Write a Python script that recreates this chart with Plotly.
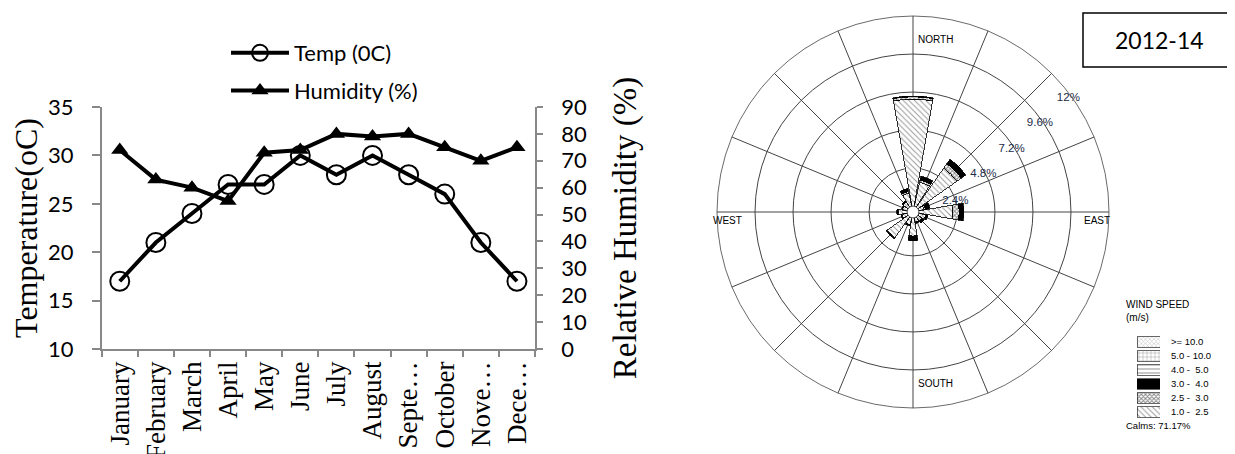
import math
import plotly.graph_objects as go

# ---------------- data: left chart ----------------
months = ["January", "February", "March", "April", "May", "June", "July",
          "August", "September", "October", "November", "December"]
month_labels = ["January", "February", "March", "April", "May", "June", "July",
                "August", "Septe…", "October", "Nove…", "Dece…"]
temp_c = [17, 21, 24, 27, 27, 30, 28, 30, 28, 26, 21, 17]
humidity = [74, 63, 60, 55, 73, 74, 80, 79, 80, 75, 70, 75]
temp_ticks = [10, 15, 20, 25, 30, 35]
hum_ticks = [0, 10, 20, 30, 40, 50, 60, 70, 80, 90]

# ---------------- data: wind rose (percent of time) ----------------
directions = ["N", "NNE", "NE", "ENE", "E", "ESE", "SE", "SSE",
              "S", "SSW", "SW", "WSW", "W", "WNW", "NW", "NNW"]
dir_angles = [0, 22.5, 45, 67.5, 90, 112.5, 135, 157.5,
              180, 202.5, 225, 247.5, 270, 292.5, 315, 337.5]
spd_1_25 = [6.75, 1.55, 3.0, 0.35, 2.15, 0.45, 0.3, 0.3, 1.15, 0.45, 1.6, 0.35, 0.55, 0.3, 0.4, 0.85]
spd_25_3 = [0.15, 0.15, 0.35, 0.08, 0.4, 0.05, 0.05, 0.03, 0.05, 0.03, 0.05, 0.03, 0.05, 0.03, 0.05, 0.1]
spd_3_4 = [0.05, 0.25, 0.35, 0.3, 0.3, 0.1, 0.15, 0.05, 0.25, 0.05, 0.05, 0.03, 0.05, 0.03, 0.05, 0.2]
spd_4_5 = [0.0] * 16
spd_5_10 = [0.0] * 16
spd_10 = [0.0] * 16
speed_classes = ["1.0 -  2.5", "2.5 -  3.0", "3.0 -  4.0", "4.0 -  5.0", "5.0 - 10.0", ">= 10.0"]
ring_vals = [2.4, 4.8, 7.2, 9.6, 12]
ring_text = ["2.4%", "4.8%", "7.2%", "9.6%", "12%"]
calms_pct = 71.17
period_label = "2012-14"

# page offset (body margin) compensation
OFF = 8
W, H = 1235 - OFF, 454 - OFF
def px(x):
    return (x - OFF) / W
def py(y):
    return 1 - (y - OFF) / H

fig = go.Figure()

# ---- left chart traces ----
fig.add_trace(go.Scatter(
    x=months, y=temp_c, name="Temp (0C)", mode="lines+markers",
    line=dict(color="black", width=4),
    marker=dict(symbol="circle-open", size=19, color="black", line=dict(width=2, color="black")),
    legendgroup="t", xaxis="x", yaxis="y"))
fig.add_trace(go.Scatter(
    x=months, y=humidity, name="Humidity (%)", mode="lines+markers",
    line=dict(color="black", width=4),
    marker=dict(symbol="triangle-up", size=15, color="black"),
    legendgroup="h", xaxis="x", yaxis="y2"))

# ---- wind rose traces ----
styles = [
    dict(color="white", pattern=dict(shape="\\", fgcolor="#333", size=4, solidity=0.25)),
    dict(color="white", pattern=dict(shape="x", fgcolor="#111", size=3, solidity=0.55)),
    dict(color="black"),
    dict(color="white", pattern=dict(shape="-", fgcolor="#222", size=4, solidity=0.25)),
    dict(color="white", pattern=dict(shape="+", fgcolor="#222", size=4, solidity=0.2)),
    dict(color="white", pattern=dict(shape="x", fgcolor="#777", size=3, solidity=0.3)),
]
series = [spd_1_25, spd_25_3, spd_3_4, spd_4_5, spd_5_10, spd_10]

def make_marker(st, lw):
    mk = dict(color=st["color"], line=dict(color="black", width=lw))
    if "pattern" in st:
        mk["pattern"] = st["pattern"]
    return mk

for name, vals, st in zip(speed_classes, series, styles):
    fig.add_trace(go.Barpolar(
        r=vals, theta=dir_angles, width=[20] * 16, name=name,
        marker=make_marker(st, 0.8), subplot="polar", showlegend=False))

# ring labels: placed next to each ring along a line at 41.5 deg, nudged down-right
small = "Liberation Sans, Arial, sans-serif"
LAB_ANG = math.radians(41.5)
NUDGE_X, NUDGE_Y = 0.52, -0.98   # in % units of the radial scale
lab_r, lab_t = [], []
for rv in ring_vals:
    xx = rv * math.cos(LAB_ANG) + NUDGE_X
    yy = rv * math.sin(LAB_ANG) + NUDGE_Y
    lab_r.append(math.hypot(xx, yy))
    lab_t.append(90 - math.degrees(math.atan2(yy, xx)))
fig.add_trace(go.Scatterpolar(
    r=lab_r, theta=lab_t, text=ring_text, mode="text",
    textposition="middle center", subplot="polar", showlegend=False, hoverinfo="skip",
    textfont=dict(family=small, size=11.5, color="#1c2b4a")))

# ---- wind speed key: swatches as bars on a tiny axis ----
for i, (name, st) in enumerate(zip(speed_classes, styles)):
    fig.add_trace(go.Bar(
        y=[name], x=[1], base=[0], orientation="h", width=[0.78],
        marker=make_marker(st, 0.6), xaxis="x3", yaxis="y3",
        showlegend=False, hoverinfo="skip"))

axis_font = dict(family="Lato, Noto Sans, sans-serif", size=22, color="black")
serif = "Liberation Serif, Times New Roman, serif"

fig.update_layout(
    width=W, height=H,
    margin=dict(l=0, r=0, t=0, b=0, autoexpand=False),
    paper_bgcolor="white", plot_bgcolor="white",
    barmode="stack",
    xaxis=dict(
        domain=[px(101.7), px(535)], type="category", categoryorder="array",
        categoryarray=months, tickvals=months, ticktext=month_labels,
        range=[-0.5, 11.5], tickangle=-90, tickson="boundaries",
        ticks="outside", ticklen=6, tickcolor="#888", tickwidth=1.5,
        showline=True, linecolor="#888", linewidth=1.5, showgrid=False,
        tickfont=dict(family=serif, size=27, color="black"), anchor="y", automargin=False),
    yaxis=dict(
        domain=[py(349), py(107)], range=[10, 35], tickvals=temp_ticks,
        ticks="outside", ticklen=8, tickcolor="#888", tickwidth=1.5,
        showline=True, linecolor="#888", linewidth=1.5, showgrid=False, zeroline=False,
        tickfont=axis_font, ticklabelstandoff=14, automargin=False,
        title=dict(text="Temperature(oC)", font=dict(family=serif, size=32, color="black"), standoff=4),
        anchor="x"),
    yaxis2=dict(
        overlaying="y", side="right", anchor="x", range=[0, 90], tickvals=hum_ticks,
        ticks="outside", ticklen=6, tickcolor="#888", tickwidth=1.5,
        showline=True, linecolor="#888", linewidth=1.5, showgrid=False, zeroline=False,
        tickfont=axis_font, ticklabelstandoff=14, automargin=False,
        title=dict(text="Relative Humidity (%)", font=dict(family=serif, size=33, color="black"), standoff=27)),
    xaxis3=dict(domain=[px(1137), px(1160)], range=[0, 1], visible=False, fixedrange=True,
                anchor="y3", automargin=False),
    yaxis3=dict(domain=[py(419), py(335)], type="category", categoryorder="array",
                categoryarray=speed_classes, range=[-0.5, 5.5], side="right", anchor="x3",
                showline=False, showgrid=False, zeroline=False, ticks="", automargin=False,
                ticklabelstandoff=10, fixedrange=True,
                tickfont=dict(family=small, size=9.5, color="black")),
    legend=dict(
        x=px(226), y=py(32), xanchor="left", yanchor="top",
        font=dict(family="Lato, Noto Sans, sans-serif", size=22, color="black"),
        itemwidth=58, tracegroupgap=6, bgcolor="rgba(0,0,0,0)"),
    polar=dict(
        domain=dict(x=[px(913 - 196), px(913 + 196)], y=[py(212 + 196), py(212 - 196)]),
        hole=0.03, bgcolor="white",
        angularaxis=dict(rotation=90, direction="clockwise", dtick=22.5,
                         showticklabels=False, ticks="", showgrid=True,
                         gridcolor="#444", gridwidth=0.7, linecolor="#444", linewidth=0.8),
        radialaxis=dict(range=[0, 12], tickvals=ring_vals, showticklabels=False,
                        showline=False, ticks="", gridcolor="#444", gridwidth=0.7)),
    showlegend=True,
)

# compass labels
lab_font = dict(family=small, size=10, color="black")
fig.add_annotation(x=px(916), y=py(40), text="NORTH", showarrow=False, xanchor="left", yanchor="middle", font=lab_font, xref="paper", yref="paper")
fig.add_annotation(x=px(916), y=py(383), text="SOUTH", showarrow=False, xanchor="left", yanchor="middle", font=lab_font, xref="paper", yref="paper")
fig.add_annotation(x=px(711), y=py(220), text="WEST", showarrow=False, xanchor="left", yanchor="middle", font=lab_font, xref="paper", yref="paper")
fig.add_annotation(x=px(1082), y=py(220), text="EAST", showarrow=False, xanchor="left", yanchor="middle", font=lab_font, xref="paper", yref="paper")
fig.add_annotation(x=px(1124), y=py(311), text="WIND SPEED<br>(m/s)", showarrow=False, xanchor="left", yanchor="middle", align="left",
                   font=dict(family=small, size=10, color="black"), xref="paper", yref="paper")
fig.add_annotation(x=px(1124), y=py(425), text=f"Calms: {calms_pct:.2f}%", showarrow=False, xanchor="left", yanchor="middle",
                   font=dict(family=small, size=9.5, color="black"), xref="paper", yref="paper")

# period box
fig.add_shape(type="rect", xref="paper", yref="paper", x0=px(1083), x1=px(1245), y0=py(67), y1=py(13),
              line=dict(color="black", width=1.5), fillcolor="white", layer="above")
fig.add_annotation(x=px(1159), y=py(40), text=period_label, showarrow=False, xanchor="center", yanchor="middle",
                   font=dict(family="Lato, Noto Sans, sans-serif", size=23, color="black"), xref="paper", yref="paper")

fig.write_html("out.html")
